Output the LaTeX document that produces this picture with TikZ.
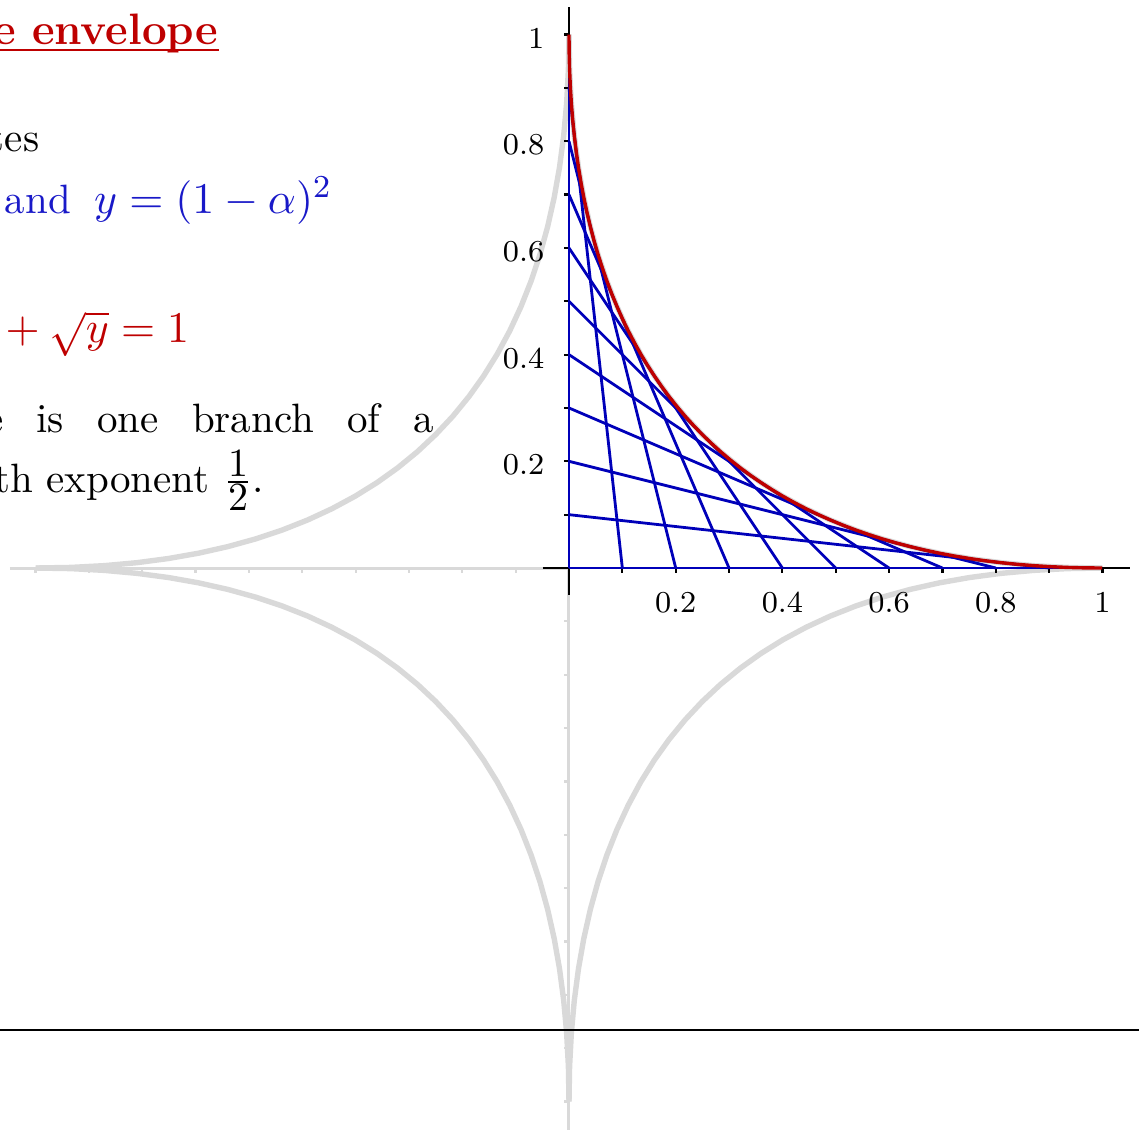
\documentclass[tikz,border=0pt]{standalone}
\usepackage{amsmath}
\definecolor{envred}{RGB}{190,0,0}
\definecolor{linblue}{RGB}{0,0,185}
\definecolor{txtblue}{RGB}{25,25,200}
\definecolor{lightgr}{RGB}{217,217,217}
\tikzset{
  graycurve/.style={draw=lightgr, line width=1.35pt, line join=round},
  grayaxis/.style={draw=lightgr, line width=0.75pt},
  graytick/.style={draw=lightgr, line width=0.55pt},
  blackaxis/.style={draw=black, line width=0.65pt},
  blacktick/.style={draw=black, line width=0.55pt},
  envline/.style={draw=linblue, line width=0.7pt},
  envcurve/.style={draw=envred, line width=0.85pt},
  ticklabel/.style={font=\fontsize{7.6}{9}\selectfont, inner sep=0pt},
  bodytext/.style={font=\fontsize{10.25}{12}\selectfont, inner sep=0pt},
  mathtext/.style={font=\fontsize{11}{13}\selectfont, inner sep=0pt},
  titletext/.style={font=\fontsize{11}{13}\selectfont\bfseries, text=envred, inner sep=0pt},
}
\begin{document}
\begin{tikzpicture}[x=0.25pt,y=-0.25pt]
\useasboundingbox (0,0) rectangle (1139,1129);
\begin{scope}[shift={(569,568)},x=133.375pt,y=133.375pt]
  % gray background plot
  \draw[grayaxis] (-1.048,0) -- (0,0);
  \draw[grayaxis] (0,0) -- (0,-1.07);
  \foreach \i in {1,...,10} {
    \draw[graytick] (-\i/10,0) -- ++(0,-1.3pt);
    \draw[graytick] (0,-\i/10) -- ++(-1.3pt,0);
  }
  \foreach \sx/\sy in {1/1,-1/1,-1/-1,1/-1}
    \draw[graycurve,xscale=\sx,yscale=\sy] plot[domain=0:1,samples=31] ({\x*\x},{(1-\x)*(1-\x)});
  % black axes
  \draw[blackaxis] (-0.049,0) -- (1.052,0);
  \draw[blackaxis] (0,-0.05) -- (0,1.051);
  \foreach \i in {1,...,10} {
    \draw[blacktick] (\i/10,0) -- ++(0,-1.3pt);
    \draw[blacktick] (0,\i/10) -- ++(-1.3pt,0);
  }
  \foreach \i/\t in {2/0.2,4/0.4,6/0.6,8/0.8,10/1} {
    \node[ticklabel,anchor=base,yshift=-11pt] (xl\i) at (\i/10,0) {\t};
    \node[ticklabel,anchor=base east,xshift=-6pt,yshift=-3.4pt] (yl\i) at (0,\i/10) {\t};
  }
  % family of lines
  \foreach \i in {0,...,10}
    \draw[envline] (\i/10,0) -- (0,1-\i/10);
  % envelope
  \draw[envcurve] plot[domain=0:1,samples=61] ({\x*\x},{(1-\x)*(1-\x)});
\end{scope}
% frame line
\draw[line width=0.5pt] (0,1030) -- (1139,1030);
% texts
\node[titletext, anchor=base east] (title) at (219,44) {e envelope};
\draw[envred, line width=0.5pt] ([yshift=-1.6pt]title.base west) -- ([yshift=-1.6pt]title.base east);
\node[bodytext, anchor=base east] (tes) at (40,151.7) {tes};
\node[bodytext, text=txtblue, anchor=base west] (and) at (4,213.3) {and};
\node[mathtext, text=txtblue, anchor=base east] (ydef) at (333,213.3) {$y=(1-\alpha)^2$};
\node[mathtext, text=envred, anchor=base east] (rel) at (190,342) {${}+\sqrt{y}=1$};
\node[bodytext, anchor=base east] (l1) at (435,432) {\makebox[112.3pt][s]{e is one branch of a}};
\node[bodytext, anchor=base east] (l2) at (265,492) {th exponent $\frac{\textstyle 1}{\textstyle 2}$.};
\end{tikzpicture}
\end{document}
